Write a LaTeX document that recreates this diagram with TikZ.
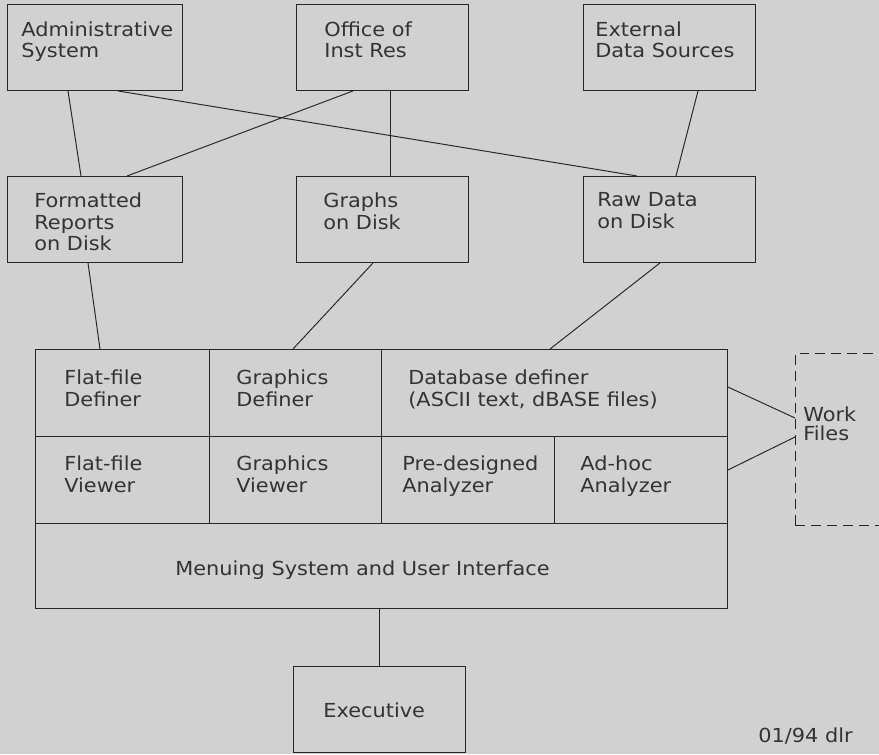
\documentclass[tikz,border=0pt]{standalone}
\usepackage{fontspec}
\setmainfont{DejaVu Sans}[FakeStretch=1.08]
\usepackage{tikz}
\usetikzlibrary{positioning,calc}

\begin{document}
\begin{tikzpicture}[x=0.02cm,y=-0.02cm,
  box/.style={draw=black!85,line width=0.55pt,minimum width=3.44cm,minimum height=1.72cm,inner sep=0pt,anchor=north west},
  cell/.style={draw=black!85,line width=0.55pt,inner sep=0pt,anchor=north west,minimum height=1.74cm},
  lbl/.style={anchor=north west,inner sep=0pt,align=left,text=black!80,font=\fontsize{11}{12.5}\selectfont},
  link/.style={draw=black!85,line width=0.55pt}]
\fill[black!18] (0,0) rectangle (879,754);
\clip (0,0) rectangle (879,754);

% sources
\node[box,minimum width=3.5cm] (admin) at (7,4) {};
\node[box] (office) at (296,4) {};
\node[box] (ext) at (583,4) {};
\node[lbl] (admin-t) at (21,21) {Administrative\\System};
\node[lbl] (office-t) at (324,21) {Office of\\Inst Res};
\node[lbl] (ext-t) at (595,21) {External\\Data Sources};

% files on disk
\node[box,minimum width=3.5cm] (fmt) at (7,176) {};
\node[box] (graphs) at (296,176) {};
\node[box] (raw) at (583,176) {};
\node[lbl] (fmt-t) at (34,192) {Formatted\\Reports\\on Disk};
\node[lbl] (graphs-t) at (323,192) {Graphs\\on Disk};
\node[lbl] (raw-t) at (597,192) {Raw Data\\on Disk};

% main system
\node[cell,minimum width=3.48cm] (flatdef) at (35,349) {};
\node[cell,minimum width=3.44cm] (gfxdef) at (209,349) {};
\node[cell,minimum width=6.92cm] (dbdef) at (381,349) {};
\node[cell,minimum width=3.48cm] (flatview) at (35,436) {};
\node[cell,minimum width=3.44cm] (gfxview) at (209,436) {};
\node[cell,minimum width=3.46cm] (predes) at (381,436) {};
\node[cell,minimum width=3.46cm] (adhoc) at (554,436) {};
\node[cell,minimum width=13.84cm,minimum height=1.7cm] (menu) at (35,523) {};
\node[lbl] (flatdef-t) at (64,369) {Flat-file\\Definer};
\node[lbl] (gfxdef-t) at (236,369) {Graphics\\Definer};
\node[lbl] (dbdef-t) at (408,369) {Database definer\\(ASCII text, dBASE files)};
\node[lbl] (flatview-t) at (64,455) {Flat-file\\Viewer};
\node[lbl] (gfxview-t) at (236,455) {Graphics\\Viewer};
\node[lbl] (predes-t) at (402,455) {Pre-designed\\Analyzer};
\node[lbl] (adhoc-t) at (580,455) {Ad-hoc\\Analyzer};
\node[lbl] (menu-t) at (175,560) {Menuing System and User Interface};

\node[cell,dashed,dash pattern=on 0.2cm off 0.12cm,minimum width=1.78cm,minimum height=3.44cm] (work) at (795,353) {};
\node[lbl,font=\fontsize{11}{10.8}\selectfont] (work-t) at (803,406) {Work\\Files};

\node[box] (exec) at (293,666) {};
\node[lbl] (exec-t) at (323,702) {Executive};
\node[lbl] (stamp) at (758,727) {01/94 dlr};

% connectors
\draw[link] ([shift={(61,0)}]admin.south west) -- ([shift={(74,0)}]fmt.north west);
\draw[link] ([shift={(111,0)}]admin.south west) -- ([shift={(54,0)}]raw.north west);
\draw[link] ([shift={(57,0)}]office.south west) -- ([shift={(120,0)}]fmt.north west);
\draw[link] ([shift={(94.5,0)}]office.south west) -- ([shift={(94.5,0)}]graphs.north west);
\draw[link] ([shift={(115,0)}]ext.south west) -- ([shift={(93,0)}]raw.north west);
\draw[link] ([shift={(81,0)}]fmt.south west) -- ([shift={(65,0)}]flatdef.north west);
\draw[link] ([shift={(77,0)}]graphs.south west) -- ([shift={(84,0)}]gfxdef.north west);
\draw[link] ([shift={(77,0)}]raw.south west) -- ([shift={(169,0)}]dbdef.north west);
\draw[link] ([shift={(0,38)}]dbdef.north east) -- ([shift={(0,65)}]work.north west);
\draw[link] ([shift={(0,34)}]adhoc.north east) -- ([shift={(0,84)}]work.north west);
\draw[link] (exec.north) -- (exec.north |- menu.south);
\end{tikzpicture}
\end{document}
